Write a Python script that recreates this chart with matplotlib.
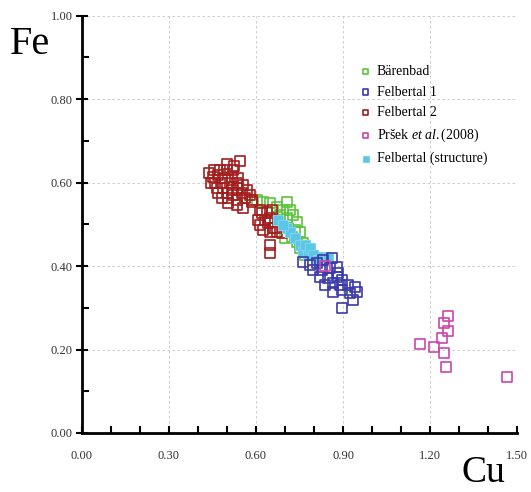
import matplotlib.pyplot as plt
from matplotlib.ticker import MultipleLocator, FormatStrFormatter

plt.rcParams['font.family'] = ['Liberation Serif', 'DejaVu Serif']
plt.rcParams['mathtext.fontset'] = 'custom'
plt.rcParams['mathtext.it'] = 'Liberation Serif:italic'
plt.rcParams['mathtext.rm'] = 'Liberation Serif'

# Bärenbad
baren_cu = [0.603, 0.624, 0.648, 0.672, 0.707, 0.693, 0.717, 0.683, 0.707, 0.728, 0.741,
            0.710, 0.734, 0.752, 0.724, 0.741, 0.762, 0.752, 0.700, 0.769, 0.779]
baren_fe = [0.558, 0.553, 0.551, 0.541, 0.553, 0.534, 0.534, 0.522, 0.515, 0.522, 0.505,
            0.491, 0.486, 0.481, 0.469, 0.457, 0.455, 0.443, 0.467, 0.426, 0.438]

# Felbertal 1
felb1_cu = [0.762, 0.786, 0.810, 0.831, 0.862, 0.797, 0.828, 0.855, 0.879, 0.821, 0.848,
            0.879, 0.897, 0.838, 0.866, 0.890, 0.917, 0.941, 0.866, 0.897, 0.924, 0.948,
            0.934, 0.897, 0.883]
felb1_fe = [0.410, 0.402, 0.407, 0.414, 0.419, 0.390, 0.390, 0.395, 0.398, 0.374, 0.371,
            0.374, 0.366, 0.354, 0.359, 0.354, 0.354, 0.350, 0.338, 0.343, 0.335, 0.338,
            0.319, 0.299, 0.383]

# Felbertal 2
felb2_cu = [0.545, 0.455, 0.476, 0.500, 0.521, 0.452, 0.469, 0.493, 0.517, 0.538,
            0.459, 0.483, 0.510, 0.534, 0.555, 0.466, 0.486, 0.517, 0.538, 0.569,
            0.469, 0.500, 0.521, 0.552, 0.579, 0.483, 0.503, 0.534, 0.562, 0.586,
            0.503, 0.534, 0.555, 0.438, 0.445, 0.500, 0.525,
            0.586, 0.614, 0.621, 0.638, 0.655, 0.607, 0.631, 0.648, 0.614, 0.641,
            0.659, 0.624, 0.648, 0.672, 0.690, 0.666, 0.648, 0.648]
felb2_fe = [0.651, 0.630, 0.630, 0.630, 0.630, 0.613, 0.618, 0.611, 0.613, 0.611,
            0.599, 0.599, 0.599, 0.599, 0.594, 0.587, 0.587, 0.582, 0.587, 0.582,
            0.575, 0.575, 0.570, 0.575, 0.570, 0.563, 0.563, 0.558, 0.563, 0.558,
            0.551, 0.546, 0.539, 0.622, 0.600, 0.645, 0.640,
            0.553, 0.534, 0.527, 0.529, 0.534, 0.510, 0.510, 0.515, 0.498, 0.503,
            0.491, 0.486, 0.481, 0.481, 0.479, 0.491, 0.450, 0.431]

# Pršek et al. (2008)
prsek_cu = [1.263, 1.249, 1.260, 1.240, 1.215, 1.166, 1.249, 1.254, 1.464, 0.839]
prsek_fe = [0.281, 0.263, 0.244, 0.228, 0.207, 0.213, 0.192, 0.159, 0.133, 0.400]

# Felbertal (structure)
struct_cu = [0.676, 0.707, 0.717, 0.734, 0.752, 0.762, 0.779, 0.769, 0.786, 0.797,
             0.831, 0.814, 0.848, 0.693]
struct_fe = [0.510, 0.491, 0.481, 0.467, 0.450, 0.434, 0.426, 0.450, 0.443, 0.426,
             0.422, 0.414, 0.419, 0.498]

fig = plt.figure(figsize=(5.31, 4.92), dpi=100)
ax = fig.add_axes([0.154, 0.120, 0.820, 0.848])

ms = 52
ax.scatter(baren_cu, baren_fe, s=ms, marker='s', facecolors='none', edgecolors='#5cc43c',
           linewidths=1.2, label='Bärenbad', zorder=3)
ax.scatter(felb1_cu, felb1_fe, s=ms, marker='s', facecolors='none', edgecolors='#3b3aa8',
           linewidths=1.2, label='Felbertal 1', zorder=5)
ax.scatter(felb2_cu, felb2_fe, s=ms, marker='s', facecolors='none', edgecolors='#a31d1d',
           linewidths=1.2, label='Felbertal 2', zorder=3)
ax.scatter(prsek_cu, prsek_fe, s=ms, marker='s', facecolors='none', edgecolors='#cc45aa',
           linewidths=1.2, label=r'Pršek $\it{et\ al.}$(2008)', zorder=6)
ax.scatter(struct_cu, struct_fe, s=ms, marker='s', facecolors='#5cc6e6', edgecolors='#7dd3ec',
           linewidths=0.8, label='Felbertal (structure)', zorder=4)

ax.set_xlim(0, 1.5)
ax.set_ylim(0, 1.0)
ax.xaxis.set_major_locator(MultipleLocator(0.3))
ax.xaxis.set_minor_locator(MultipleLocator(0.1))
ax.yaxis.set_major_locator(MultipleLocator(0.2))
ax.yaxis.set_minor_locator(MultipleLocator(0.1))
ax.xaxis.set_major_formatter(FormatStrFormatter('%.2f'))
ax.yaxis.set_major_formatter(FormatStrFormatter('%.2f'))

ax.grid(True, which='major', linestyle=(0, (3, 3)), color='#c4c4c4', linewidth=0.6)
for s in ['top', 'right']:
    ax.spines[s].set_visible(False)
for s in ['left', 'bottom']:
    ax.spines[s].set_linewidth(2.0)

ax.tick_params(axis='x', which='both', direction='in', length=5, width=1.5,
               labelsize=9, labelcolor='#333333', pad=12)
ax.tick_params(axis='y', which='major', direction='inout', length=9, width=1.5,
               labelsize=9, labelcolor='#333333', pad=2)
ax.tick_params(axis='y', which='minor', direction='in', length=5, width=1.5)

fig.text(0.018, 0.91, 'Fe', fontsize=29, ha='left', va='center')
fig.text(0.91, 0.004, 'Cu', fontsize=27, ha='center', va='bottom')

leg = ax.legend(loc='upper left', bbox_to_anchor=(0.62, 0.895), frameon=False,
                fontsize=10, handletextpad=0.2, labelspacing=0.55, borderaxespad=0,
                markerscale=0.55, handlelength=1.2)

fig.savefig('out.png', dpi=100)
